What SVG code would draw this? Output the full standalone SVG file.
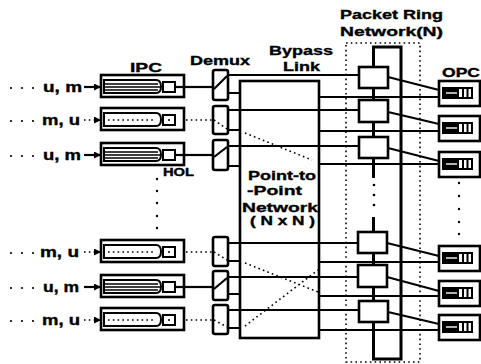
<svg xmlns="http://www.w3.org/2000/svg" xmlns:xlink="http://www.w3.org/1999/xlink" width="481" height="364" viewBox="0 0 481 364">
<style>
.t{font-family:"Liberation Sans",Arial,Helvetica,sans-serif;font-weight:bold;fill:#000;stroke:#000;stroke-width:0.35}
.ln{stroke:#000;stroke-width:2.2;fill:none}
.dt{stroke:#000;stroke-width:1.6;fill:none;stroke-dasharray:1.6 3.2}
.bx{stroke:#000;stroke-width:2.6;fill:#fff}
.q{stroke:#000;stroke-width:2;fill:#fff}
.ring{stroke:#000;stroke-width:3;fill:none}
.thin{stroke:#000;stroke-width:1.3;fill:none}
</style>
<defs>
<marker id="arr" viewBox="0 0 8 8" refX="8" refY="4" markerWidth="7" markerHeight="7" markerUnits="userSpaceOnUse" orient="auto"><path d="M0,0 L8,4 L0,8 Z" fill="#000"/></marker>
<g id="ipcSolid">
<rect class="bx" x="101" y="-12" width="83" height="22"/>
<path class="q" d="M104,-7 H156 Q161,-7 161,-0.5 Q161,6 156,6 H104 Z"/>
<path class="thin" d="M105,-3 H158 M105,0 H160 M105,3 H158"/>
<rect class="q" x="163" y="-5" width="12" height="10"/>
<path class="ln" d="M175,0 H184"/>
</g>
<g id="ipcDot">
<rect class="bx" x="101" y="-12" width="83" height="22"/>
<path class="q" d="M104,-7 H156 Q161,-7 161,-0.5 Q161,6 156,6 H104 Z"/>
<path class="dt" d="M108,0 H156"/>
<rect class="q" x="163" y="-5" width="12" height="10"/>
<circle cx="169" cy="0" r="1" fill="#000"/>
</g>
<g id="opcQ">
<rect class="bx" x="439" y="-12" width="41" height="25"/>
<rect class="q" x="443" y="-5" width="29" height="10"/>
<rect x="444" y="-4" width="15" height="8" fill="#000"/>
<path d="M446,0 H457" stroke="#fff" stroke-width="1.4"/>
<path d="M463,-4 V4 M467.5,-4 V4" stroke="#000" stroke-width="2"/>
</g>
</defs>
<rect width="481" height="364" fill="#fff"/>

<g id="titles">
<text class="t" x="340" y="19" font-size="13" textLength="103" lengthAdjust="spacingAndGlyphs">Packet Ring</text>
<text class="t" x="340" y="36" font-size="13" textLength="103" lengthAdjust="spacingAndGlyphs">Network(N)</text>
<text class="t" x="269" y="55" font-size="13" textLength="64" lengthAdjust="spacingAndGlyphs">Bypass</text>
<text class="t" x="283" y="71" font-size="13" textLength="37" lengthAdjust="spacingAndGlyphs">Link</text>
<text class="t" x="190" y="65" font-size="13" textLength="60" lengthAdjust="spacingAndGlyphs">Demux</text>
<text class="t" x="130" y="72" font-size="13" textLength="32" lengthAdjust="spacingAndGlyphs">IPC</text>
<text class="t" x="442" y="77" font-size="12" textLength="38" lengthAdjust="spacingAndGlyphs">OPC</text>
<text class="t" x="163" y="176" font-size="10" textLength="31" lengthAdjust="spacingAndGlyphs">HOL</text>
</g>

<g id="p2p">
<rect class="bx" x="240" y="81" width="79" height="257"/>
<text class="t" x="248" y="180" font-size="13" textLength="68" lengthAdjust="spacingAndGlyphs">Point-to</text>
<text class="t" x="247" y="195" font-size="13" textLength="55" lengthAdjust="spacingAndGlyphs">-Point</text>
<text class="t" x="242" y="212" font-size="13" textLength="76" lengthAdjust="spacingAndGlyphs">Network</text>
<text class="t" x="250" y="225" font-size="12" textLength="65" lengthAdjust="spacingAndGlyphs">( N x N )</text>
</g>

<g id="ringNetwork">
<rect class="dt" x="346" y="43" width="74" height="319"/>
<path class="ring" d="M373.5,178 V47 H401 V359 H373.5 V217"/>
<circle cx="374" cy="185" r="1.3"/><circle cx="374" cy="195" r="1.3"/><circle cx="374" cy="205" r="1.3"/>
</g>

<g id="connectors">
<g fill="#000">
<circle cx="11" cy="88" r="1.1"/><circle cx="22" cy="88" r="1.1"/><circle cx="33" cy="88" r="1.1"/>
<circle cx="11" cy="121" r="1.1"/><circle cx="22" cy="121" r="1.1"/><circle cx="33" cy="121" r="1.1"/>
<circle cx="11" cy="156" r="1.1"/><circle cx="22" cy="156" r="1.1"/><circle cx="33" cy="156" r="1.1"/>
<circle cx="11" cy="253" r="1.1"/><circle cx="22" cy="253" r="1.1"/><circle cx="33" cy="253" r="1.1"/>
<circle cx="11" cy="288" r="1.1"/><circle cx="22" cy="288" r="1.1"/><circle cx="33" cy="288" r="1.1"/>
<circle cx="11" cy="321" r="1.1"/><circle cx="22" cy="321" r="1.1"/><circle cx="33" cy="321" r="1.1"/>
</g>
<path class="ln" d="M84,87 H101" marker-end="url(#arr)"/>
<path class="dt" d="M84,120 H96"/><path d="M96,120 H101" stroke="#000" stroke-width="1.5" marker-end="url(#arr)"/>
<path class="ln" d="M84,155 H101" marker-end="url(#arr)"/>
<path class="dt" d="M84,252 H96"/><path d="M96,252 H101" stroke="#000" stroke-width="1.5" marker-end="url(#arr)"/>
<path class="ln" d="M84,287 H101" marker-end="url(#arr)"/>
<path class="dt" d="M84,320 H96"/><path d="M96,320 H101" stroke="#000" stroke-width="1.5" marker-end="url(#arr)"/>
<path class="ln" d="M184,87 H213"/>
<path class="dt" d="M186,120 H213"/>
<path class="ln" d="M184,155 H213"/>
<path class="dt" d="M186,252 H213"/>
<path class="ln" d="M184,287 H213"/>
<path class="dt" d="M186,320 H213"/>
<path class="ln" d="M228,75 H359 M228,110 H359 M228,146 H359 M228,243 H358 M228,277 H358 M228,310 H359"/>
<path class="ln" d="M228,93 H240 M228,130 H240 M228,166 H240 M228,261 H240 M228,294 H240 M228,328 H240"/>
<path class="ln" d="M319,97 H439 M319,131 H439 M319,164 H439 M319,262 H439 M319,296 H439 M319,330 H439"/>
<path class="ln" d="M388,77 L439,90 M388,112 L439,124 M388,148 L439,161 M387,243 L439,256 M387,277 L439,291 M388,312 L439,324"/>
<path class="dt" d="M245,133 L312,160 M245,263 L318,292 M245,326 L318,270"/>
<g fill="#000">
<circle cx="157" cy="179" r="1.2"/><circle cx="157" cy="191" r="1.2"/><circle cx="157" cy="203" r="1.2"/><circle cx="157" cy="216" r="1.2"/><circle cx="157" cy="228" r="1.2"/>
<circle cx="459" cy="183" r="1.2"/><circle cx="459" cy="196" r="1.2"/><circle cx="459" cy="209" r="1.2"/><circle cx="459" cy="222" r="1.2"/><circle cx="459" cy="234" r="1.2"/>
</g>
</g>

<g id="labels">
<text class="t" x="43" y="92" font-size="14" textLength="39" lengthAdjust="spacingAndGlyphs">u, m</text>
<text class="t" x="42" y="125" font-size="14" textLength="38" lengthAdjust="spacingAndGlyphs">m, u</text>
<text class="t" x="43" y="160" font-size="14" textLength="38" lengthAdjust="spacingAndGlyphs">u, m</text>
<text class="t" x="40" y="257" font-size="14" textLength="39" lengthAdjust="spacingAndGlyphs">m, u</text>
<text class="t" x="43" y="292" font-size="14" textLength="36" lengthAdjust="spacingAndGlyphs">u, m</text>
<text class="t" x="42" y="325" font-size="14" textLength="38" lengthAdjust="spacingAndGlyphs">m, u</text>
</g>

<g id="ipc1"><use xlink:href="#ipcSolid" y="87"/></g>
<g id="ipc2"><use xlink:href="#ipcDot" y="120"/></g>
<g id="ipc3"><use xlink:href="#ipcSolid" y="155"/></g>
<g id="ipc4"><use xlink:href="#ipcDot" y="252"/></g>
<g id="ipc5"><use xlink:href="#ipcSolid" y="287"/></g>
<g id="ipc6"><use xlink:href="#ipcDot" y="320"/></g>

<g id="demux1"><rect class="bx" x="213" y="70" width="15" height="30" rx="2"/><path class="ln" d="M214,89 L227,76"/></g>
<g id="demux2"><rect class="bx" x="213" y="106" width="15" height="28" rx="2"/><path class="dt" d="M214,120 L227,129"/></g>
<g id="demux3"><rect class="bx" x="213" y="140" width="15" height="30" rx="2"/><path class="ln" d="M214,157 L227,147"/></g>
<g id="demux4"><rect class="bx" x="213" y="237" width="15" height="29" rx="2"/><path class="dt" d="M214,252 L227,260"/></g>
<g id="demux5"><rect class="bx" x="213" y="271" width="15" height="29" rx="2"/><path class="ln" d="M214,289 L227,278"/></g>
<g id="demux6"><rect class="bx" x="213" y="305" width="15" height="29" rx="2"/><path class="dt" d="M214,320 L227,327"/></g>

<g id="node1"><rect class="bx" x="359" y="67" width="29" height="21"/></g>
<g id="node2"><rect class="bx" x="359" y="100" width="29" height="22"/></g>
<g id="node3"><rect class="bx" x="359" y="137" width="29" height="21"/></g>
<g id="node4"><rect class="bx" x="358" y="232" width="29" height="21"/></g>
<g id="node5"><rect class="bx" x="358" y="265" width="29" height="22"/></g>
<g id="node6"><rect class="bx" x="359" y="301" width="29" height="21"/></g>

<g id="opc1"><use xlink:href="#opcQ" y="93"/></g>
<g id="opc2"><use xlink:href="#opcQ" y="128"/></g>
<g id="opc3"><use xlink:href="#opcQ" y="164"/></g>
<g id="opc4"><use xlink:href="#opcQ" y="258"/></g>
<g id="opc5"><use xlink:href="#opcQ" y="293"/></g>
<g id="opc6"><use xlink:href="#opcQ" y="327"/></g>
</svg>
